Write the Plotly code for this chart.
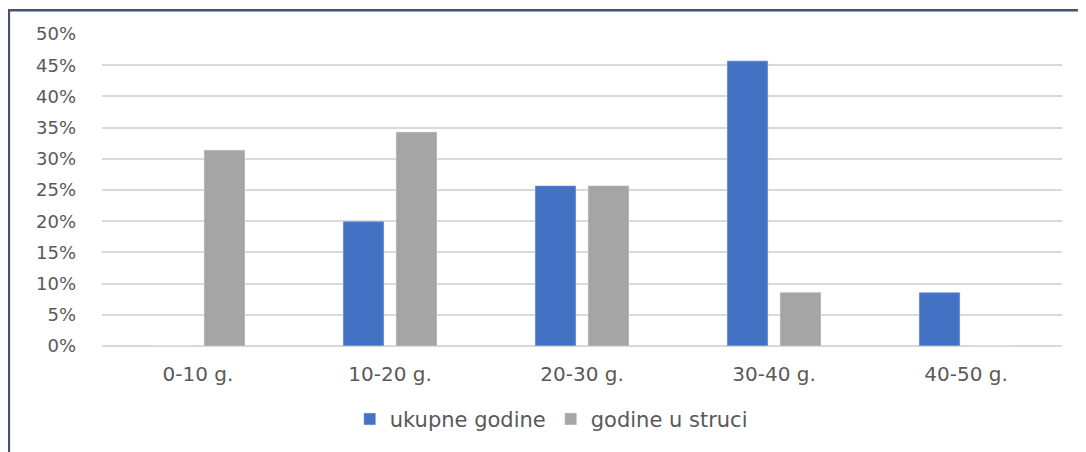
import plotly.graph_objects as go

categories = ["0-10 g.", "10-20 g.", "20-30 g.", "30-40 g.", "40-50 g."]
ukupne_godine = [0, 0.20, 0.257, 0.457, 0.086]
godine_u_struci = [0.314, 0.343, 0.257, 0.086, 0]
y_ticks = [0, 0.05, 0.10, 0.15, 0.20, 0.25, 0.30, 0.35, 0.40, 0.45, 0.50]

fig = go.Figure()
fig.add_trace(go.Bar(
    x=categories,
    y=ukupne_godine,
    name="ukupne godine",
    marker=dict(color="#4472C4"),
))
fig.add_trace(go.Bar(
    x=categories,
    y=godine_u_struci,
    name="godine u struci",
    marker=dict(color="#A5A5A5"),
))

# the page body adds an 8px margin, so the figure is a bit smaller
fig.update_layout(
    width=1078,
    height=444,
    margin=dict(l=94, r=24, t=26, b=98),
    paper_bgcolor="white",
    plot_bgcolor="white",
    font=dict(family="DejaVu Sans", size=18, color="#595959"),
    barmode="group",
    bargap=0.448,
    bargroupgap=0.226,
    showlegend=True,
    legend=dict(
        orientation="h",
        x=0.468,
        xanchor="center",
        y=-0.235,
        yanchor="middle",
        font=dict(size=21, color="#595959"),
        traceorder="normal",
    ),
)

fig.update_xaxes(
    showgrid=False,
    showline=False,
    ticks="",
    tickfont=dict(size=20),
    ticklabelstandoff=14,
)
fig.update_yaxes(
    range=[0, 0.5],
    tickvals=y_ticks,
    tickformat=".0%",
    showgrid=True,
    gridcolor="#D9D9D9",
    gridwidth=1.5,
    zeroline=True,
    zerolinecolor="#D9D9D9",
    zerolinewidth=1.5,
    ticks="",
    tickfont=dict(size=18),
    ticklabelstandoff=25,
)

# chart border (cropped at right and bottom in the reference)
fig.add_shape(
    type="rect",
    xref="paper", yref="paper",
    x0=-0.097, x1=1.1, y0=-0.4, y1=1.076,
    line=dict(color="#44546A", width=2.5),
    fillcolor="rgba(0,0,0,0)",
    layer="above",
)

fig.write_html("out.html")
